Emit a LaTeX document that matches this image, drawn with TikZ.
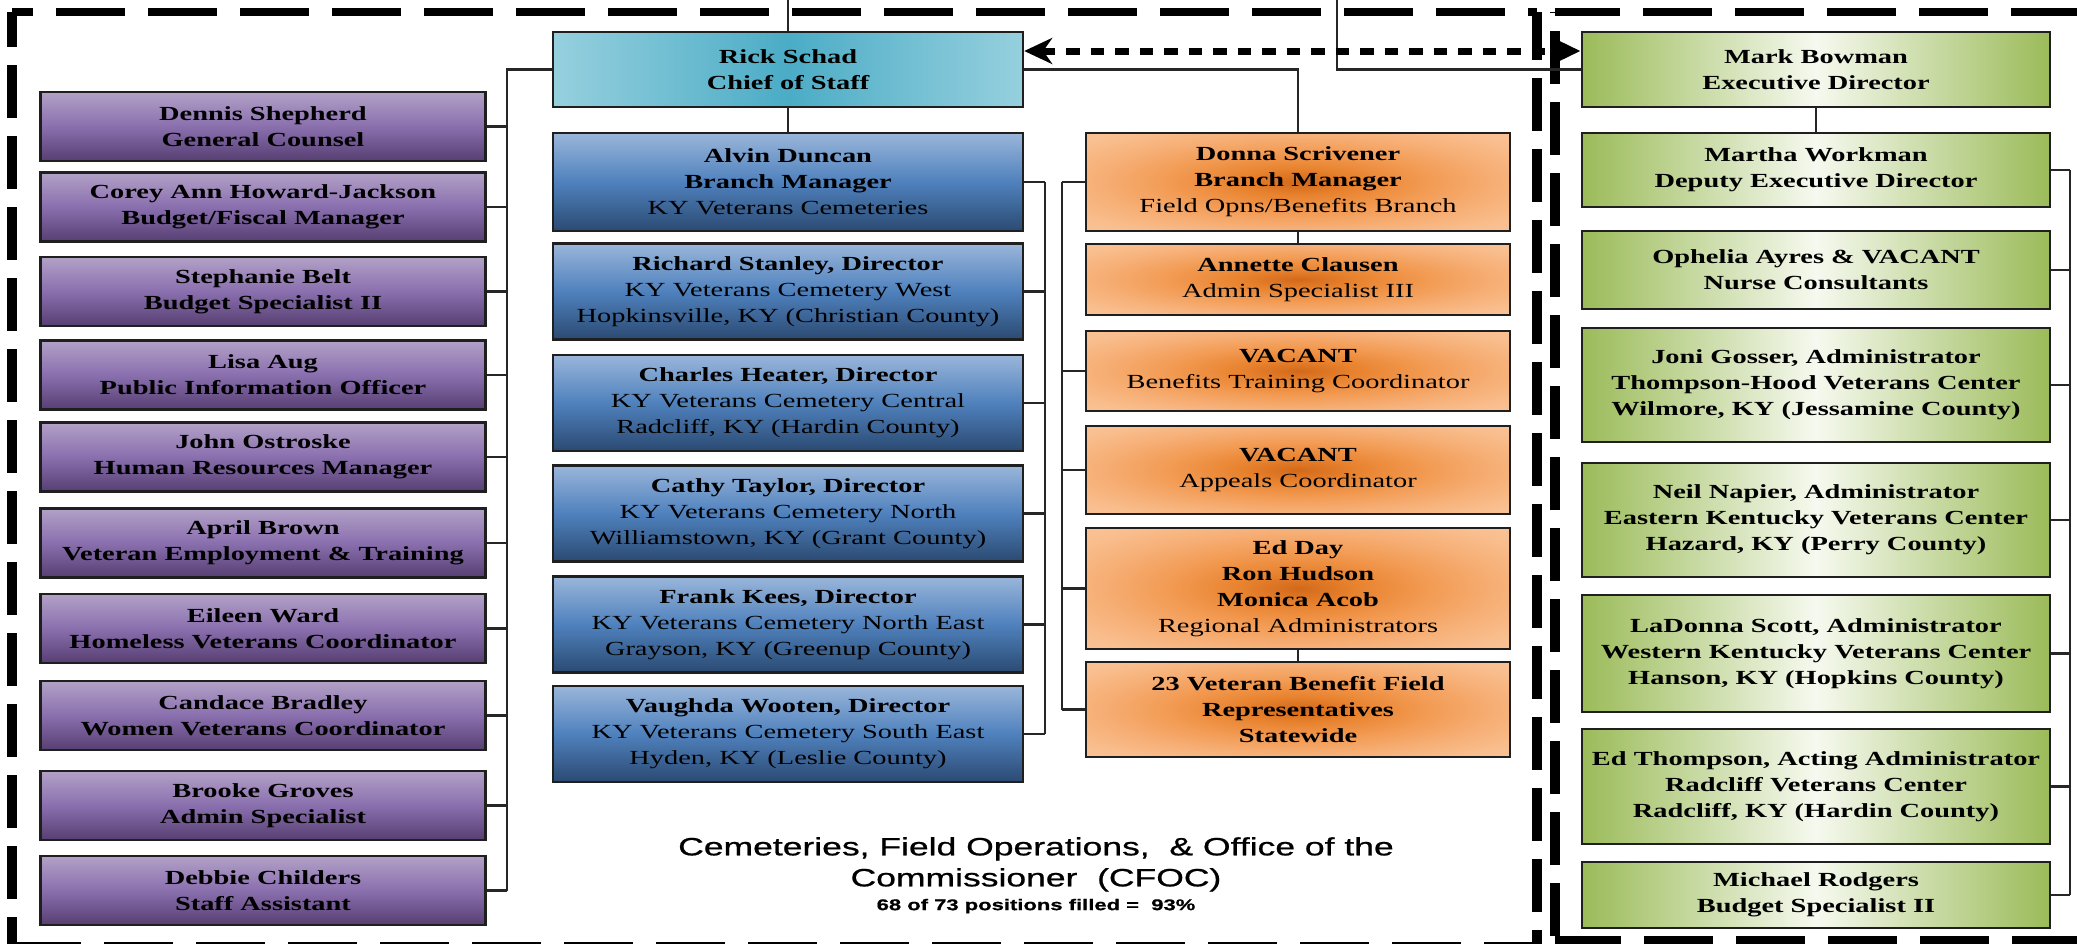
\documentclass[tikz,border=0pt]{standalone}
\usepackage{fontspec}
\setmainfont{Liberation Serif}[FakeStretch=1.42]
\newfontfamily\capfont{Liberation Sans}[FakeStretch=1.42, FakeBold=0.8]
\usetikzlibrary{positioning, arrows.meta}

\definecolor{lilacTop}{HTML}{B2A1C7}
\definecolor{lilacMid}{HTML}{8A6FAE}
\definecolor{lilacBot}{HTML}{563F72}
\definecolor{blueTop}{HTML}{9AB6DA}
\definecolor{blueMid}{HTML}{4F81BD}
\definecolor{blueBot}{HTML}{2B4A72}
\definecolor{tealIn}{HTML}{4BACC6}
\definecolor{tealOut}{HTML}{96D0DE}
\definecolor{orangeIn}{HTML}{D2691A}
\definecolor{orangeA}{HTML}{E8832F}
\definecolor{orangeB}{HTML}{F29A52}
\definecolor{orangeC}{HTML}{F6AE74}
\definecolor{orangeOut}{HTML}{F9BE8E}
\definecolor{orangeRim}{HTML}{FBCAA2}
\definecolor{greenIn}{HTML}{F6F9EF}
\definecolor{greenOut}{HTML}{9BBB59}
\pgfdeclareradialshading{orangeglow}{\pgfpoint{0bp}{0bp}}{color(0bp)=(orangeIn); color(7bp)=(orangeA); color(15bp)=(orangeB); color(23bp)=(orangeC); color(31bp)=(orangeOut); color(44bp)=(orangeRim); color(50bp)=(orangeRim)}

\begin{document}
\begin{tikzpicture}[x=1pt, y=-1pt]
% Define block styles
\tikzstyle{box} = [draw=black!88, line width=2.4pt, inner sep=0pt, align=center,
    font=\fontsize{20}{26}\selectfont]
\tikzstyle{staff} = [box, minimum width=445pt, minimum height=69pt,
    top color=lilacTop, bottom color=lilacBot, middle color=lilacMid, font=\fontsize{20}{26}\selectfont\bfseries]
\tikzstyle{chief} = [box, minimum width=470pt, minimum height=75pt,
    left color=tealOut, right color=tealOut, middle color=tealIn, font=\fontsize{20}{26}\selectfont\bfseries]
\tikzstyle{cemetery} = [box, minimum width=470pt, minimum height=96pt,
    top color=blueTop, bottom color=blueBot, middle color=blueMid]
\tikzstyle{field} = [box, minimum width=424pt, shade, shading=orangeglow]
\tikzstyle{home} = [box, minimum width=468pt,
    left color=greenOut, right color=greenOut, middle color=greenIn, font=\fontsize{20}{26}\selectfont\bfseries]
\tikzstyle{line} = [draw, line width=2.2pt, black!85]
\tikzstyle{bordh} = [line width=8pt, dash pattern=on 69pt off 23pt]
\tikzstyle{bordv} = [line width=10pt, dash pattern=on 53pt off 18pt]
\tikzstyle{liaison} = [draw, line width=7pt, dash pattern=on 13.5pt off 11pt,
    {Stealth[length=28pt,width=26pt,inset=9pt]}-{Triangle[length=22pt,width=19pt]}]
\tikzstyle{caption} = [inner sep=0pt, align=center, font=\capfont\fontsize{25}{31}\selectfont]

\useasboundingbox (0,0) rectangle (2077,943);
\clip (0,0) rectangle (2077,943);
\fill[white] (0,0) rectangle (2077,943);

% Dashed frames
\draw[bordh, dash phase=48pt] (12,12) -- (1537,12);
\draw[bordh] (12,946) -- (1537,946);
\draw[bordv, dash phase=18pt] (12,12) -- (12,950);
\draw[bordv, dash phase=5pt] (1537,12) -- (1537,950);
\draw[bordh, dash phase=4pt] (1555,12) -- (2090,12);
\draw[bordh, dash phase=3pt] (1555,940) -- (2090,940);
\draw[bordv, dash phase=52pt] (1555,12) -- (1555,945);

% Place nodes
\node [chief] (rick) at (788,69.5) {Rick Schad\\Chief of Staff};

\node [staff] (dennis) at (263,126.5) {Dennis Shepherd\\General Counsel};
\node [staff] (corey) at (263,207) {Corey Ann Howard-Jackson\\Budget/Fiscal Manager};
\node [staff] (belt) at (263,291.5) {Stephanie Belt\\Budget Specialist II};
\node [staff] (aug) at (263,375) {Lisa Aug\\Public Information Officer};
\node [staff] (ostroske) at (263,457) {John Ostroske\\Human Resources Manager};
\node [staff] (brown) at (263,543) {April Brown\\Veteran Employment \& Training};
\node [staff] (ward) at (263,628.5) {Eileen Ward\\Homeless Veterans Coordinator};
\node [staff] (bradley) at (263,715.5) {Candace Bradley\\Women Veterans Coordinator};
\node [staff] (groves) at (263,805.5) {Brooke Groves\\Admin Specialist};
\node [staff] (childers) at (263,890.5) {Debbie Childers\\Staff Assistant};

\node [cemetery, minimum height=98pt] (duncan) at (788,182) {\textbf{Alvin Duncan}\\\textbf{Branch Manager}\\KY Veterans Cemeteries};
\node [cemetery] (stanley) at (788,291.5) {\textbf{Richard Stanley, Director}\\KY Veterans Cemetery West\\Hopkinsville, KY (Christian County)};
\node [cemetery] (heater) at (788,403) {\textbf{Charles Heater, Director}\\KY Veterans Cemetery Central\\Radcliff, KY (Hardin County)};
\node [cemetery] (taylor) at (788,513.5) {\textbf{Cathy Taylor, Director}\\KY Veterans Cemetery North\\Williamstown, KY (Grant County)};
\node [cemetery] (kees) at (788,624.5) {\textbf{Frank Kees, Director}\\KY Veterans Cemetery North East\\Grayson, KY (Greenup County)};
\node [cemetery] (wooten) at (788,734) {\textbf{Vaughda Wooten, Director}\\KY Veterans Cemetery South East\\Hyden, KY (Leslie County)};

\node [field, minimum height=98pt] (scrivener) at (1298,182) {\textbf{Donna Scrivener}\\\textbf{Branch Manager}\\Field Opns/Benefits Branch};
\node [field, minimum height=71pt] (clausen) at (1298,279.5) {\textbf{Annette Clausen}\\Admin Specialist III};
\node [field, minimum height=80pt] (vacbtc) at (1298,371) {\textbf{VACANT}\\Benefits Training Coordinator};
\node [field, minimum height=88pt] (vacappeals) at (1298,470) {\textbf{VACANT}\\Appeals Coordinator};
\node [field, minimum height=121pt] (regional) at (1298,588.5) {\textbf{Ed Day}\\\textbf{Ron Hudson}\\\textbf{Monica Acob}\\Regional Administrators};
\node [field, minimum height=95pt] (reps) at (1298,709.5) {\textbf{23 Veteran Benefit Field}\\\textbf{Representatives}\\\textbf{Statewide}};

\node [home, minimum height=75pt] (bowman) at (1816,69.5) {Mark Bowman\\Executive Director};
\node [home, minimum height=74pt] (workman) at (1816,170) {Martha Workman\\Deputy Executive Director};
\node [home, minimum height=78pt] (ayres) at (1816,270) {Ophelia Ayres \& VACANT\\Nurse Consultants};
\node [home, minimum height=114pt] (gosser) at (1816,385) {Joni Gosser, Administrator\\Thompson-Hood Veterans Center\\Wilmore, KY (Jessamine County)};
\node [home, minimum height=114pt] (napier) at (1816,520) {Neil Napier, Administrator\\Eastern Kentucky Veterans Center\\Hazard, KY (Perry County)};
\node [home, minimum height=117pt] (scott) at (1816,653.5) {LaDonna Scott, Administrator\\Western Kentucky Veterans Center\\Hanson, KY (Hopkins County)};
\node [home, minimum height=115pt] (thompson) at (1816,786.5) {Ed Thompson, Acting Administrator\\Radcliff Veterans Center\\Radcliff, KY (Hardin County)};
\node [home, minimum height=66pt] (rodgers) at (1816,895) {Michael Rodgers\\Budget Specialist II};

\node [caption, anchor=north] (cfoc) at (1036,837) {Cemeteries, Field Operations,~ \& Office of the\\Commissioner~ (CFOC)};
\node [caption, below=7pt of cfoc, font=\capfont\bfseries\fontsize{15.5}{18}\selectfont] (filled) {68 of 73 positions filled =~ 93\%};

% Connectors
\coordinate (topA) at (788,0);
\coordinate (topB) at (1337,0);
\coordinate (pbus) at (507,0);
\coordinate (bbus) at (1045,0);
\coordinate (obus) at (1062,0);
\coordinate (gbus) at (2070,0);

\path [line] (topA) -- (rick.north);
\path [line] (topB) |- (bowman.west);
\path [line] (rick.south) -- (duncan.north);
\path [line] (rick.east) -| (scrivener.north);
\path [line] (scrivener.south) -- (clausen.north);
\path [line] (regional.south) -- (reps.north);
\path [line] (bowman.south) -- (workman.north);

\path [line] (rick.west) -| (pbus |- childers.east);
\foreach \n in {dennis,corey,belt,aug,ostroske,brown,ward,bradley,groves,childers}
    \path [line] (\n.east) -- (\n.east -| pbus);

\path [line] (bbus |- duncan.east) -- (bbus |- wooten.east);
\foreach \n in {duncan,stanley,heater,taylor,kees,wooten}
    \path [line] (\n.east) -- (\n.east -| bbus);

\path [line] (obus |- scrivener.west) -- (obus |- reps.west);
\foreach \n in {scrivener,vacbtc,vacappeals,regional,reps}
    \path [line] (\n.west) -- (\n.west -| obus);

\path [line] (gbus |- workman.east) -- (gbus |- rodgers.east);
\foreach \n in {workman,ayres,gosser,napier,scott,thompson,rodgers}
    \path [line] (\n.east) -- (\n.east -| gbus);

\path [liaison] ([yshift=18.5pt]rick.east) -- ([yshift=18.5pt]bowman.west);
\end{tikzpicture}
\end{document}
